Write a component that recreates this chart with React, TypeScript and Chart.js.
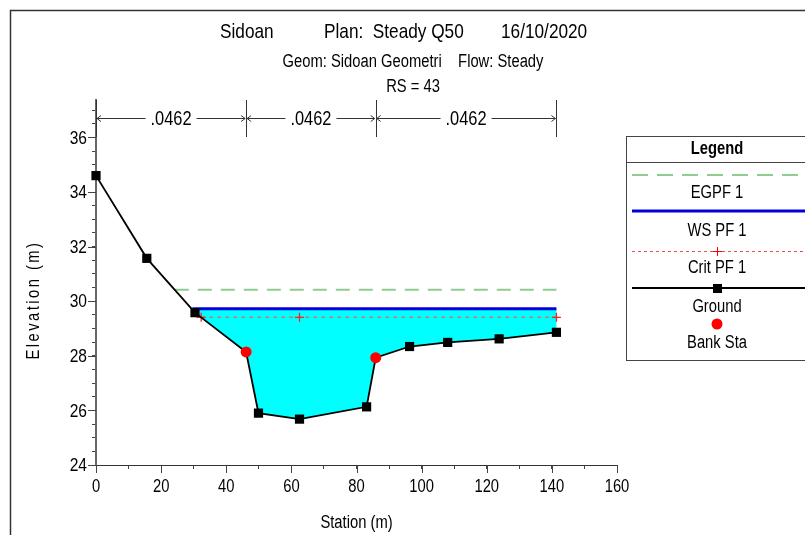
import { useEffect, useRef } from 'react';
import { Chart, registerables } from 'chart.js';
Chart.register(...registerables);

const FONT = "'Liberation Sans', Arial, sans-serif";
const NARROW = 0.82; // horizontal condensation of the reference's narrow typeface

// ---- data ----
const groundStation = [0, 15.6, 30.4, 46.1, 49.9, 62.5, 83.1, 85.9, 96.3, 108.0, 123.8, 141.4];
const groundElev = [34.6, 31.57, 29.58, 28.14, 25.9, 25.68, 26.13, 27.93, 28.34, 28.49, 28.62, 28.86];
const bankStation = [46.1, 85.9];
const bankElev = [28.14, 27.93];
const wsStation = [29.6, 141.4];
const wsElev = [29.72, 29.72];
const egStation = [24.2, 141.4];
const egElev = [30.42, 30.42];
const critStation = [32.3, 62.5, 141.4];
const critElev = [29.41, 29.41, 29.41];
const nBreaks = [0, 46.1, 85.9, 141.4];
const nValues = ['.0462', '.0462', '.0462'];
const xMin = 0, xMax = 160, xStep = 10;
const yMin = 24, yMax = 37.37, yStep = 0.5;
const xTickLabels = [0, 20, 40, 60, 80, 100, 120, 140, 160];
const yTickLabels = [24, 26, 28, 30, 32, 34, 36];
const titleParts = ['Sidoan', 'Plan:  Steady Q50', '16/10/2020'];
const subtitle = 'Geom: Sidoan Geometri    Flow: Steady';
const rsLabel = 'RS = 43';
const xTitle = 'Station (m)';
const yTitle = 'Elevation (m)';
const legendTitle = 'Legend';
const legendLabels = ['EGPF 1', 'WS PF 1', 'Crit PF 1', 'Ground', 'Bank Sta'];

const pts = (xs: number[], ys: number[]) => xs.map((x, i) => ({ x, y: ys[i] }));

const wetGround = pts(groundStation, groundElev)
  .filter((p) => p.x >= wsStation[0] && p.x <= wsStation[1])
  .reverse();
const fillPoly = [...pts(wsStation, wsElev), ...wetGround];

const f = (size: number, bold = false) => `${bold ? 'bold ' : ''}${size}px ${FONT}`;

function txt(ctx: CanvasRenderingContext2D, s: string, x: number, y: number, size: number,
  align: CanvasTextAlign = 'center', bold = false) {
  ctx.save();
  ctx.translate(x, y);
  ctx.scale(NARROW, 1);
  ctx.font = f(size, bold);
  ctx.textAlign = align;
  ctx.textBaseline = 'middle';
  ctx.fillStyle = '#000';
  ctx.fillText(s, 0, 0);
  ctx.restore();
}

const decor = {
  id: 'decor',
  beforeDraw(chart: any) {
    const ctx = chart.ctx;
    ctx.save();
    ctx.fillStyle = '#fff';
    ctx.fillRect(0, 0, chart.width, chart.height);
    ctx.strokeStyle = '#333';
    ctx.lineWidth = 1.5;
    ctx.beginPath();
    ctx.moveTo(10.5, chart.height);
    ctx.lineTo(10.5, 10.5);
    ctx.lineTo(chart.width, 10.5);
    ctx.stroke();
    ctx.restore();
  },
  afterDraw(chart: any) {
    const ctx: CanvasRenderingContext2D = chart.ctx;
    const xs = chart.scales.x;
    const ys = chart.scales.y;
    const area = chart.chartArea;
    ctx.save();
    // titles
    txt(ctx, titleParts[0], 220, 32, 21, 'left');
    txt(ctx, titleParts[1], 324, 32, 21, 'left');
    txt(ctx, titleParts[2], 501, 32, 21, 'left');
    txt(ctx, subtitle, 413, 62, 18);
    txt(ctx, rsLabel, 413, 87, 18);
    // axis titles
    txt(ctx, xTitle, (area.left + area.right) / 2, 523, 18);
    ctx.save();
    ctx.translate(34, 300);
    ctx.rotate(-Math.PI / 2);
    ctx.scale(NARROW, 1);
    (ctx as any).letterSpacing = '3px';
    ctx.font = f(18);
    ctx.textAlign = 'center';
    ctx.textBaseline = 'middle';
    ctx.fillStyle = '#000';
    ctx.fillText(yTitle, 0, 0);
    ctx.restore();
    // tick labels and major tick extensions
    ctx.strokeStyle = '#444';
    ctx.lineWidth = 1;
    yTickLabels.forEach((v) => {
      const py = ys.getPixelForValue(v);
      const pr = Math.round(py) + 0.5;
      ctx.beginPath();
      ctx.moveTo(area.left - 8, pr);
      ctx.lineTo(area.left, pr);
      ctx.stroke();
      txt(ctx, String(v), area.left - 9, py + 1, 19, 'right');
    });
    xTickLabels.forEach((v) => {
      const px = xs.getPixelForValue(v);
      const pr = Math.round(px) + 0.5;
      ctx.beginPath();
      ctx.moveTo(pr, area.bottom);
      ctx.lineTo(pr, area.bottom + 8);
      ctx.stroke();
      txt(ctx, String(v), px, area.bottom + 22, 18);
    });
    // Manning's n annotations
    const top = area.top;
    const ay = top + 18.5;
    ctx.strokeStyle = '#333';
    ctx.lineWidth = 1;
    nBreaks.forEach((b) => {
      const px = Math.round(xs.getPixelForValue(b)) + 0.5;
      ctx.beginPath();
      ctx.moveTo(px, top);
      ctx.lineTo(px, top + 37);
      ctx.stroke();
    });
    nValues.forEach((label, i) => {
      const x1 = xs.getPixelForValue(nBreaks[i]) + 1;
      const x2 = xs.getPixelForValue(nBreaks[i + 1]) - 1;
      const mid = (x1 + x2) / 2;
      ctx.font = f(20);
      const w = (ctx.measureText(label).width * NARROW) / 2 + 5;
      ctx.beginPath();
      ctx.moveTo(x1, ay);
      ctx.lineTo(mid - w, ay);
      ctx.moveTo(mid + w, ay);
      ctx.lineTo(x2, ay);
      ctx.moveTo(x1 + 4, ay - 3);
      ctx.lineTo(x1, ay);
      ctx.lineTo(x1 + 4, ay + 3);
      ctx.moveTo(x2 - 4, ay - 3);
      ctx.lineTo(x2, ay);
      ctx.lineTo(x2 - 4, ay + 3);
      ctx.stroke();
      txt(ctx, label, mid, ay + 1, 20);
    });
    // legend
    const lx = 626.5, lt = 136.5, lb = 360.5, lr = 812;
    const cx = 717;
    ctx.strokeStyle = '#444';
    ctx.lineWidth = 1;
    ctx.strokeRect(lx, lt, lr - lx, lb - lt);
    ctx.beginPath();
    ctx.moveTo(lx, 162.5);
    ctx.lineTo(lr, 162.5);
    ctx.stroke();
    txt(ctx, legendTitle, cx, 149, 18, 'center', true);
    // EG
    ctx.save();
    ctx.strokeStyle = '#8fcc8f';
    ctx.lineWidth = 2;
    ctx.setLineDash([16, 9]);
    ctx.beginPath();
    ctx.moveTo(632, 175);
    ctx.lineTo(800, 175);
    ctx.stroke();
    ctx.restore();
    txt(ctx, legendLabels[0], cx, 193, 18);
    // WS
    ctx.save();
    ctx.strokeStyle = '#0000dd';
    ctx.lineWidth = 3;
    ctx.beginPath();
    ctx.moveTo(632, 211);
    ctx.lineTo(805, 211);
    ctx.stroke();
    ctx.restore();
    txt(ctx, legendLabels[1], cx, 231, 18);
    // Crit
    ctx.save();
    ctx.strokeStyle = '#e05050';
    ctx.lineWidth = 1;
    ctx.setLineDash([3, 3]);
    ctx.beginPath();
    ctx.moveTo(632, 251.5);
    ctx.lineTo(805, 251.5);
    ctx.stroke();
    ctx.setLineDash([]);
    ctx.strokeStyle = '#ff0000';
    ctx.beginPath();
    ctx.moveTo(cx + 0.5, 247);
    ctx.lineTo(cx + 0.5, 256);
    ctx.moveTo(cx - 4, 251.5);
    ctx.lineTo(cx + 5, 251.5);
    ctx.stroke();
    ctx.restore();
    txt(ctx, legendLabels[2], cx, 268, 18);
    // Ground
    ctx.save();
    ctx.strokeStyle = '#000';
    ctx.lineWidth = 2;
    ctx.beginPath();
    ctx.moveTo(632, 288);
    ctx.lineTo(805, 288);
    ctx.stroke();
    ctx.fillStyle = '#000';
    ctx.fillRect(cx - 4, 284, 9, 9);
    ctx.restore();
    txt(ctx, legendLabels[3], cx, 307, 18);
    // Bank
    ctx.save();
    ctx.fillStyle = '#ff0000';
    ctx.beginPath();
    ctx.arc(cx, 324, 5.5, 0, Math.PI * 2);
    ctx.fill();
    ctx.restore();
    txt(ctx, legendLabels[4], cx, 343, 18);
    ctx.restore();
  },
};

export default function App() {
  const ref = useRef<HTMLCanvasElement | null>(null);
  useEffect(() => {
    if (!ref.current) return;
    const chart = new Chart(ref.current, {
      type: 'line',
      data: {
        datasets: [
          {
            label: 'fill',
            data: fillPoly,
            borderWidth: 0,
            pointRadius: 0,
            backgroundColor: '#00ffff',
            fill: 'shape',
            order: 10,
          } as any,
          {
            label: legendLabels[0],
            data: pts(egStation, egElev),
            borderColor: '#8fcc8f',
            borderWidth: 2,
            borderDash: [14, 9],
            pointRadius: 0,
            fill: false,
            order: 6,
          },
          {
            label: legendLabels[2],
            data: pts(critStation, critElev),
            borderColor: 'rgba(215,110,110,0.9)',
            borderWidth: 1.5,
            borderDash: [4, 4],
            pointStyle: 'cross',
            pointRadius: 4.5,
            pointBorderColor: '#ff2020',
            pointBorderWidth: 1.3,
            fill: false,
            clip: false,
            order: 5,
          },
          {
            label: legendLabels[1],
            data: pts(wsStation, wsElev),
            borderColor: '#0000dd',
            borderWidth: 3,
            pointRadius: 0,
            fill: false,
            order: 4,
          },
          {
            label: legendLabels[3],
            data: pts(groundStation, groundElev),
            borderColor: '#000',
            borderWidth: 1.8,
            pointStyle: 'rect',
            pointRadius: (c: any) => (bankStation.includes(groundStation[c.dataIndex]) ? 0 : 6.5),
            pointBackgroundColor: '#000',
            pointBorderColor: '#000',
            pointBorderWidth: 0,
            fill: false,
            clip: false,
            order: 3,
          },
          {
            label: legendLabels[4],
            data: pts(bankStation, bankElev),
            showLine: false,
            pointStyle: 'circle',
            pointRadius: 5.5,
            pointBackgroundColor: '#ff0000',
            pointBorderColor: '#ff0000',
            pointBorderWidth: 0,
            clip: false,
            order: 1,
          },
        ],
      },
      options: {
        responsive: false,
        animation: false,
        devicePixelRatio: 1,
        layout: { padding: { left: 0, top: 100, right: 188, bottom: 0 } },
        plugins: { legend: { display: false }, title: { display: false }, tooltip: { enabled: false } },
        elements: { line: { tension: 0 } },
        scales: {
          x: {
            type: 'linear',
            min: xMin,
            max: xMax,
            afterFit: (s: any) => { s.height = 70; },
            border: { display: true, color: '#333', width: 1 },
            grid: { drawOnChartArea: false, tickLength: 4, color: '#444' },
            ticks: {
              stepSize: xStep,
              autoSkip: false,
              maxRotation: 0,
              padding: 8,
              color: 'rgba(0,0,0,0)',
              font: { family: FONT, size: 14 },
              callback: () => '',
            },
          },
          y: {
            type: 'linear',
            min: yMin,
            max: yMax,
            afterFit: (s: any) => { s.width = 96; },
            border: { display: true, color: '#666', width: 2 },
            grid: { drawOnChartArea: false, tickLength: 4, color: '#444' },
            ticks: {
              stepSize: yStep,
              includeBounds: false,
              autoSkip: false,
              padding: 5,
              color: 'rgba(0,0,0,0)',
              font: { family: FONT, size: 14 },
              callback: () => '',
            },
          },
        },
      },
      plugins: [decor],
    } as any);
    return () => chart.destroy();
  }, []);
  return (
    <div style={{ position: 'fixed', left: 0, top: 0, width: 805, height: 535, background: '#fff' }}>
      <canvas ref={ref} width={805} height={535} style={{ width: 805, height: 535, display: 'block' }} />
    </div>
  );
}
